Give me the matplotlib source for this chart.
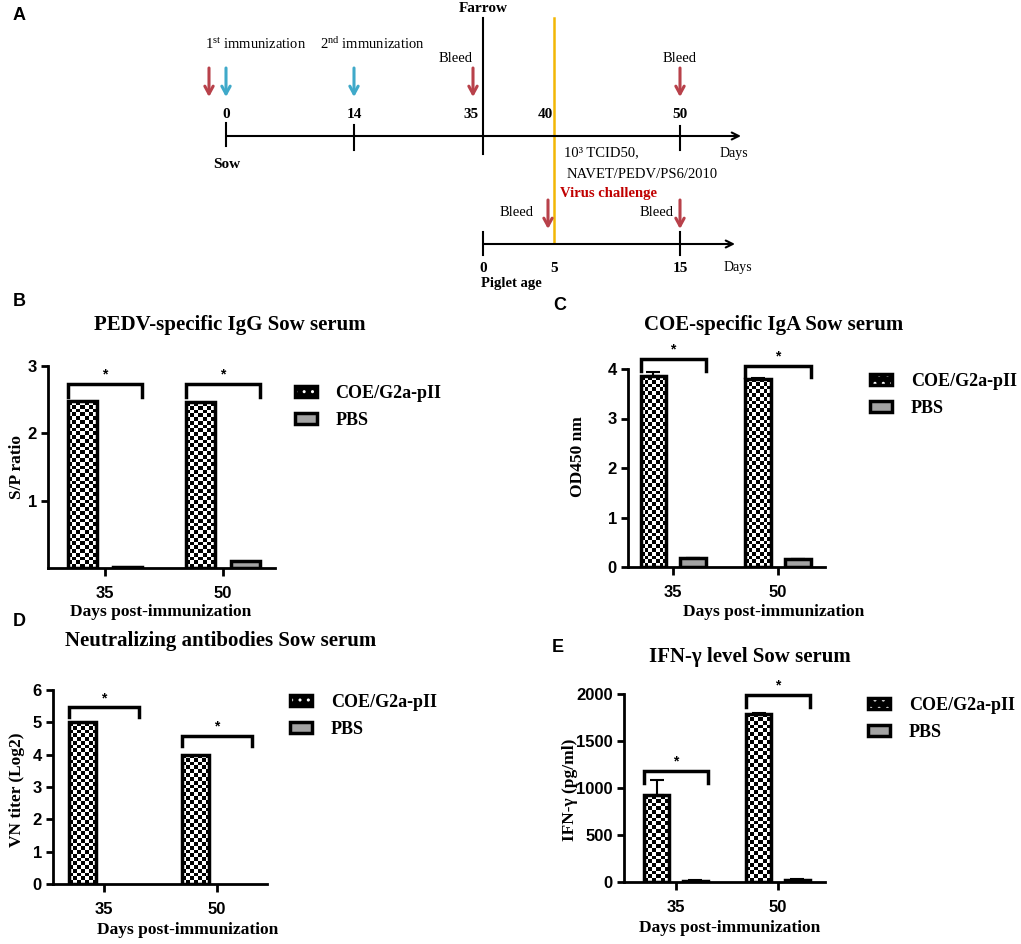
import numpy as np
import matplotlib
matplotlib.use("Agg")
import matplotlib.pyplot as plt
from matplotlib.patches import Patch
from matplotlib.legend_handler import HandlerTuple

plt.rcParams['font.family'] = 'Liberation Serif'
plt.rcParams['mathtext.fontset'] = 'custom'
plt.rcParams['mathtext.rm'] = 'Liberation Serif'
plt.rcParams['mathtext.default'] = 'regular'

W, H = 1021, 944
SANS = 'Liberation Sans'

# ---- data ----
days = ['35', '50']
groups = ['COE/G2a-pII', 'PBS']

igg_coe = [2.48, 2.46]
igg_pbs = [0.02, 0.11]

iga_coe = [3.85, 3.80]
iga_coe_err = [0.08, 0.02]
iga_pbs = [0.18, 0.16]
iga_pbs_err = [0.01, 0.01]

vn_coe = [5.0, 4.0]
vn_pbs = [0.0, 0.0]

ifn_coe = [925, 1790]
ifn_coe_err = [160, 12]
ifn_pbs = [15, 25]
ifn_pbs_err = [3, 3]

# significance brackets (top, leg end) per day
igg_sig = [(2.73, 2.54), (2.73, 2.54)]
iga_sig = [(4.20, 3.96), (4.06, 3.84)]
vn_sig = [(5.46, 5.15), (4.57, 4.26)]
ifn_sig = [(1181, 1053), (1989, 1862)]

# timeline
sow_days = ['0', '14', '35', '40', '50']
piglet_days = ['0', '5', '15']

fig = plt.figure(figsize=(W / 100, H / 100), dpi=100)
ax0 = fig.add_axes([0, 0, 1, 1])
ax0.set_xlim(0, W)
ax0.set_ylim(H, 0)
ax0.axis('off')

RED = '#b8414a'
BLUE = '#3fa9c9'
YEL = '#f2b705'


def arrow_down(x, y0, y1, color):
    ax0.annotate('', xy=(x, y1), xytext=(x, y0),
                 arrowprops=dict(arrowstyle='->,head_length=0.55,head_width=0.3',
                                 lw=2.2, color=color, shrinkA=0, shrinkB=0))


# ---- panel A: timeline ----
sow_x = [226, 354, 483, 554, 680]
pig_x = [483, 554, 680]
sow_y, pig_y = 136, 244

ax0.annotate('', xy=(741, sow_y), xytext=(226, sow_y),
             arrowprops=dict(arrowstyle='->,head_length=0.5,head_width=0.25',
                             lw=1.5, color='black', shrinkA=0, shrinkB=0))
ax0.annotate('', xy=(735, pig_y), xytext=(483, pig_y),
             arrowprops=dict(arrowstyle='->,head_length=0.5,head_width=0.25',
                             lw=1.5, color='black', shrinkA=0, shrinkB=0))
ax0.plot([sow_x[0]] * 2, [123, 146], color='black', lw=1.5)
ax0.plot([sow_x[1]] * 2, [125, 150], color='black', lw=1.5)
ax0.plot([sow_x[4]] * 2, [126, 150], color='black', lw=1.5)
ax0.plot([sow_x[2]] * 2, [18, 154], color='black', lw=1.5)
ax0.plot([pig_x[0]] * 2, [232, 255], color='black', lw=1.5)
ax0.plot([pig_x[2]] * 2, [232, 255], color='black', lw=1.5)
ax0.plot([sow_x[3]] * 2, [18, 243], color=YEL, lw=1.8)

for lab, x in zip(sow_days, sow_x):
    dx = -12 if lab == '35' else (-9 if lab == '40' else 0)
    ax0.text(x + dx, 114, lab, ha='center', va='center', fontsize=11, fontweight='bold')
for lab, x in zip(piglet_days, pig_x):
    ax0.text(x, 268, lab, ha='center', va='center', fontsize=11, fontweight='bold')

ax0.text(483, 9, 'Farrow', ha='center', va='center', fontsize=11, fontweight='bold')
ax0.text(227, 164, 'Sow', ha='center', va='center', fontsize=11, fontweight='bold')
ax0.text(481, 283, 'Piglet age', ha='left', va='center', fontsize=10.5, fontweight='bold')
ax0.text(256, 44, '1$^{st}$ immunization', ha='center', va='center', fontsize=10.5)
ax0.text(372, 44, '2$^{nd}$ immunization', ha='center', va='center', fontsize=10.5)
ax0.text(456, 58, 'Bleed', ha='center', va='center', fontsize=10.5)
ax0.text(680, 58, 'Bleed', ha='center', va='center', fontsize=10.5)
ax0.text(517, 212, 'Bleed', ha='center', va='center', fontsize=10.5)
ax0.text(657, 212, 'Bleed', ha='center', va='center', fontsize=10.5)
ax0.text(734, 154, 'Days', ha='center', va='center', fontsize=10)
ax0.text(738, 267, 'Days', ha='center', va='center', fontsize=10)
ax0.text(564, 153, '10³ TCID50,', ha='left', va='center', fontsize=10.5)
ax0.text(567, 174, 'NAVET/PEDV/PS6/2010', ha='left', va='center', fontsize=10.5)
ax0.text(560, 193, 'Virus challenge', ha='left', va='center', fontsize=10.5,
         fontweight='bold', color='#c00000')

arrow_down(209, 68, 97, RED)
arrow_down(226, 68, 97, BLUE)
arrow_down(354, 68, 97, BLUE)
arrow_down(473, 68, 97, RED)
arrow_down(680, 68, 97, RED)
arrow_down(548, 200, 229, RED)
arrow_down(680, 200, 229, RED)

for letter, x, y in [('A', 19, 16), ('B', 19, 302), ('C', 560, 305),
                     ('D', 19, 622), ('E', 558, 647)]:
    ax0.text(x, y, letter, ha='center', va='center', fontsize=13,
             fontweight='bold', family=SANS)


# ---- bar panels ----
def checker(ax, bar, cell=3.8):
    x0, y0 = bar.get_x(), bar.get_y()
    w, h = bar.get_width(), bar.get_height()
    if h <= 0:
        return
    p0 = ax.transData.transform((x0, y0))
    p1 = ax.transData.transform((x0 + w, y0 + h))
    nx = max(1, int(round((p1[0] - p0[0]) / cell)))
    ny = max(1, int(round((p1[1] - p0[1]) / cell)))
    board = np.indices((ny, nx)).sum(axis=0) % 2
    im = ax.imshow(board, cmap='gray', vmin=0, vmax=1, origin='upper',
                   extent=(x0, x0 + w, y0, y0 + h), interpolation='nearest',
                   aspect='auto', zorder=2)
    im.set_clip_path(bar)


def panel(box, coe, pbs, ymax, yticks, sig, title, ylabel, title_xy, ylab_xy,
          xlab_xy, leg_xy, xlim, coe_err=None, pbs_err=None):
    l, r, t, b = box
    ax = fig.add_axes([l / W, 1 - b / H, (r - l) / W, (b - t) / H])
    ax.patch.set_alpha(0)
    ax.set_xlim(*xlim)
    ax.set_ylim(0, ymax)
    x = np.arange(len(days))
    off, bw = 0.19, 0.24
    bars_c = ax.bar(x - off, coe, bw, facecolor='none', edgecolor='black',
                    lw=2.5, zorder=3)
    bars_p = ax.bar(x + off, pbs, bw, facecolor='#a3a3a3', edgecolor='black',
                    lw=2.5, zorder=3)
    for bar in list(bars_c) + list(bars_p):
        if bar.get_height() <= 0:
            bar.set_visible(False)
    for bar in bars_c:
        checker(ax, bar)
    if coe_err is not None:
        ax.errorbar(x - off, coe, yerr=[np.zeros(len(coe)), coe_err], fmt='none',
                    ecolor='black', elinewidth=1.5, capsize=5, capthick=1.5, zorder=4)
    if pbs_err is not None:
        ax.errorbar(x + off, pbs, yerr=[np.zeros(len(pbs)), pbs_err], fmt='none',
                    ecolor='black', elinewidth=1.5, capsize=5, capthick=1.5, zorder=4)
    for xi, (top, leg) in zip(x, sig):
        x0, x1 = xi - off - bw / 2, xi + off + bw / 2
        ax.plot([x0, x0, x1, x1], [leg, top, top, leg], color='black', lw=2.5,
                clip_on=False, solid_joinstyle='miter')
        ax.text((x0 + x1) / 2, top + ymax * 0.012, '*', ha='center', va='bottom',
                fontsize=10, fontweight='bold', family=SANS)
    ax.set_xlim(*xlim)
    ax.set_ylim(0, ymax)
    ax.set_xticks(x)
    ax.set_xticklabels(days)
    ax.set_yticks(yticks)
    for s in ['top', 'right']:
        ax.spines[s].set_visible(False)
    for s in ['left', 'bottom']:
        ax.spines[s].set_linewidth(2)
    ax.tick_params(width=2, length=5, pad=3, labelsize=12)
    ax.tick_params(axis='x', length=6, pad=7)
    for lab in ax.get_xticklabels() + ax.get_yticklabels():
        lab.set_family(SANS)
        lab.set_fontweight('bold')
    ax0.text(*title_xy, title, ha='center', va='center', fontsize=15, fontweight='bold')
    ax0.text(*ylab_xy, ylabel, ha='center', va='center', fontsize=12.5,
             fontweight='bold', rotation=90)
    ax0.text(*xlab_xy, 'Days post-immunization', ha='center', va='center',
             fontsize=12.5, fontweight='bold')
    coe_handle = (Patch(facecolor='black', edgecolor='white', hatch='..', lw=0),
                  Patch(facecolor='none', edgecolor='black', lw=2.5))
    handles = [coe_handle, Patch(facecolor='#a3a3a3', edgecolor='black', lw=2.5)]
    ax.legend(handles, groups, loc='upper left',
              bbox_to_anchor=(leg_xy[0] / W, 1 - leg_xy[1] / H),
              bbox_transform=fig.transFigure, frameon=False, borderpad=0,
              borderaxespad=0, handlelength=1.2, handleheight=0.55,
              handletextpad=1.05, labelspacing=0.55,
              handler_map={tuple: HandlerTuple(ndivide=1, pad=0)},
              prop=dict(family='Liberation Serif', weight='bold', size=13))
    return ax


panel((48, 275, 366, 568), igg_coe, igg_pbs, 3, [1, 2, 3], igg_sig,
      'PEDV-specific IgG Sow serum', 'S/P ratio', (230, 325), (17, 467),
      (161, 612), (295, 385), (-0.483, 1.44))
panel((628, 825, 369, 567), iga_coe, iga_pbs, 4, [0, 1, 2, 3, 4], iga_sig,
      'COE-specific IgA Sow serum', 'OD450 nm', (774, 325), (578, 457),
      (774, 612), (870, 373), (-0.43, 1.448), iga_coe_err, iga_pbs_err)
panel((53, 267, 690, 884), vn_coe, vn_pbs, 6, [0, 1, 2, 3, 4, 5, 6], vn_sig,
      'Neutralizing antibodies Sow serum', 'VN titer (Log2)', (221, 641),
      (17, 790), (188, 930), (290, 694), (-0.45, 1.44))
panel((624, 825, 694, 882), ifn_coe, ifn_pbs, 2000, [0, 500, 1000, 1500, 2000],
      ifn_sig, 'IFN-γ level Sow serum', 'IFN-γ (pg/ml)', (750, 657), (570, 790),
      (730, 928), (868, 697), (-0.51, 1.46), ifn_coe_err, ifn_pbs_err)

fig.savefig('out.png', dpi=100)
